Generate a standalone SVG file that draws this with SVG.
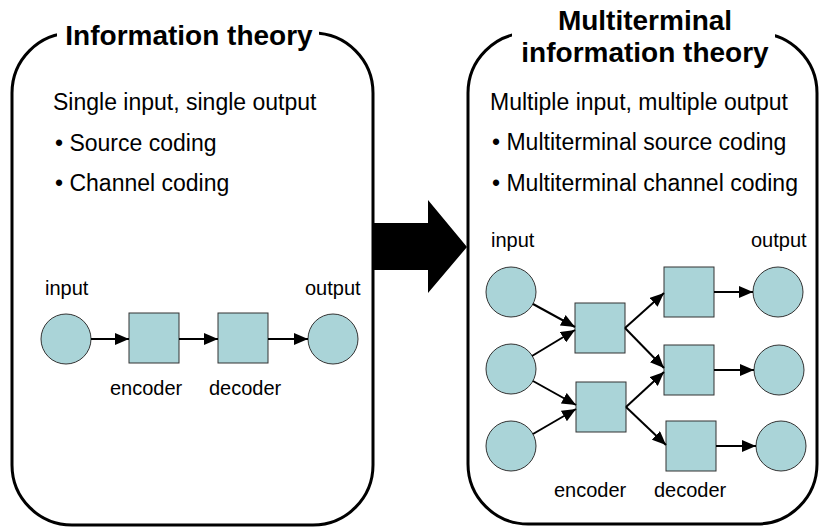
<svg xmlns="http://www.w3.org/2000/svg" width="820" height="527" viewBox="0 0 820 527">
<style>
  text { font-family: "Liberation Sans", Arial, sans-serif; fill: #000; }
  .title { font-size: 28px; font-weight: bold; text-anchor: middle; }
  .body { font-size: 23px; }
  .lbl { font-size: 20px; }
  .frame { fill: #fff; stroke: #000; stroke-width: 3; }
  .gap { fill: #fff; stroke: none; }
  .nd { fill: #aad4d8; stroke: #333; stroke-width: 1; }
  .cn { stroke: #000; stroke-width: 2; fill: none; marker-end: url(#ah); }
</style>
<defs>
  <marker id="ah" markerUnits="userSpaceOnUse" markerWidth="14" markerHeight="12" viewBox="0 0 14 12" refX="14" refY="6" orient="auto">
    <path d="M0,0 L14,6 L0,12 Z" fill="#000"/>
  </marker>
</defs>

<g id="left-box">
  <rect class="frame" x="12" y="33" width="361" height="492" rx="60" ry="60"/>
  <rect class="gap" x="57" y="20" width="262" height="24"/>
  <text class="title" x="189" y="45">Information theory</text>
  <text class="body" x="53" y="110">Single input, single output</text>
  <text class="body" x="55" y="151">• Source coding</text>
  <text class="body" x="55" y="191">• Channel coding</text>
  <text class="lbl" x="45" y="295">input</text>
  <text class="lbl" x="305" y="295">output</text>
  <text class="lbl" x="110" y="395">encoder</text>
  <text class="lbl" x="209" y="395">decoder</text>
</g>

<g id="right-box">
  <rect class="frame" x="468" y="33" width="349" height="491" rx="60" ry="60"/>
  <rect class="gap" x="512" y="20" width="263" height="24"/>
  <text class="title" x="645" y="30">Multiterminal</text>
  <text class="title" x="645" y="62">information theory</text>
  <text class="body" x="490" y="110">Multiple input, multiple output</text>
  <text class="body" x="492" y="150">• Multiterminal source coding</text>
  <text class="body" x="492" y="191">• Multiterminal channel coding</text>
  <text class="lbl" x="491" y="247">input</text>
  <text class="lbl" x="751" y="247">output</text>
  <text class="lbl" x="554" y="497">encoder</text>
  <text class="lbl" x="654" y="497">decoder</text>
</g>

<g id="big-arrow">
  <polygon points="373,223 428,223 428,200 467,247 428,293 428,270 373,270" fill="#000"/>
</g>

<g id="l-input"><circle class="nd" cx="66" cy="339" r="25"/></g>
<g id="l-encoder"><rect class="nd" x="129" y="313" width="50" height="50"/></g>
<g id="l-decoder"><rect class="nd" x="218" y="313" width="50" height="50"/></g>
<g id="l-output"><circle class="nd" cx="333" cy="339" r="25"/></g>

<g id="r-in1"><circle class="nd" cx="511" cy="292" r="25"/></g>
<g id="r-in2"><circle class="nd" cx="511" cy="369" r="25"/></g>
<g id="r-in3"><circle class="nd" cx="511" cy="446" r="25"/></g>
<g id="r-enc1"><rect class="nd" x="575" y="303" width="50" height="50"/></g>
<g id="r-enc2"><rect class="nd" x="576" y="382" width="50" height="50"/></g>
<g id="r-dec1"><rect class="nd" x="664" y="267" width="50" height="50"/></g>
<g id="r-dec2"><rect class="nd" x="664" y="345" width="50" height="50"/></g>
<g id="r-dec3"><rect class="nd" x="666" y="421" width="50" height="50"/></g>
<g id="r-out1"><circle class="nd" cx="778" cy="292" r="25"/></g>
<g id="r-out2"><circle class="nd" cx="779" cy="370" r="25"/></g>
<g id="r-out3"><circle class="nd" cx="781" cy="446" r="25"/></g>

<g id="connectors">
  <line class="cn" x1="91" y1="339" x2="129" y2="339"/>
  <line class="cn" x1="179" y1="339" x2="218" y2="339"/>
  <line class="cn" x1="268" y1="339" x2="308" y2="339"/>

  <line class="cn" x1="533" y1="304" x2="575" y2="327"/>
  <line class="cn" x1="532" y1="356" x2="575" y2="330"/>
  <line class="cn" x1="533" y1="381" x2="576" y2="405"/>
  <line class="cn" x1="533" y1="434" x2="576" y2="409"/>
  <line class="cn" x1="625" y1="328" x2="664" y2="293"/>
  <line class="cn" x1="625" y1="328" x2="664" y2="368"/>
  <line class="cn" x1="626" y1="407" x2="664" y2="372"/>
  <line class="cn" x1="626" y1="407" x2="666" y2="445"/>
  <line class="cn" x1="714" y1="292" x2="753" y2="292"/>
  <line class="cn" x1="714" y1="370" x2="754" y2="370"/>
  <line class="cn" x1="716" y1="446" x2="756" y2="446"/>
</g>
</svg>
